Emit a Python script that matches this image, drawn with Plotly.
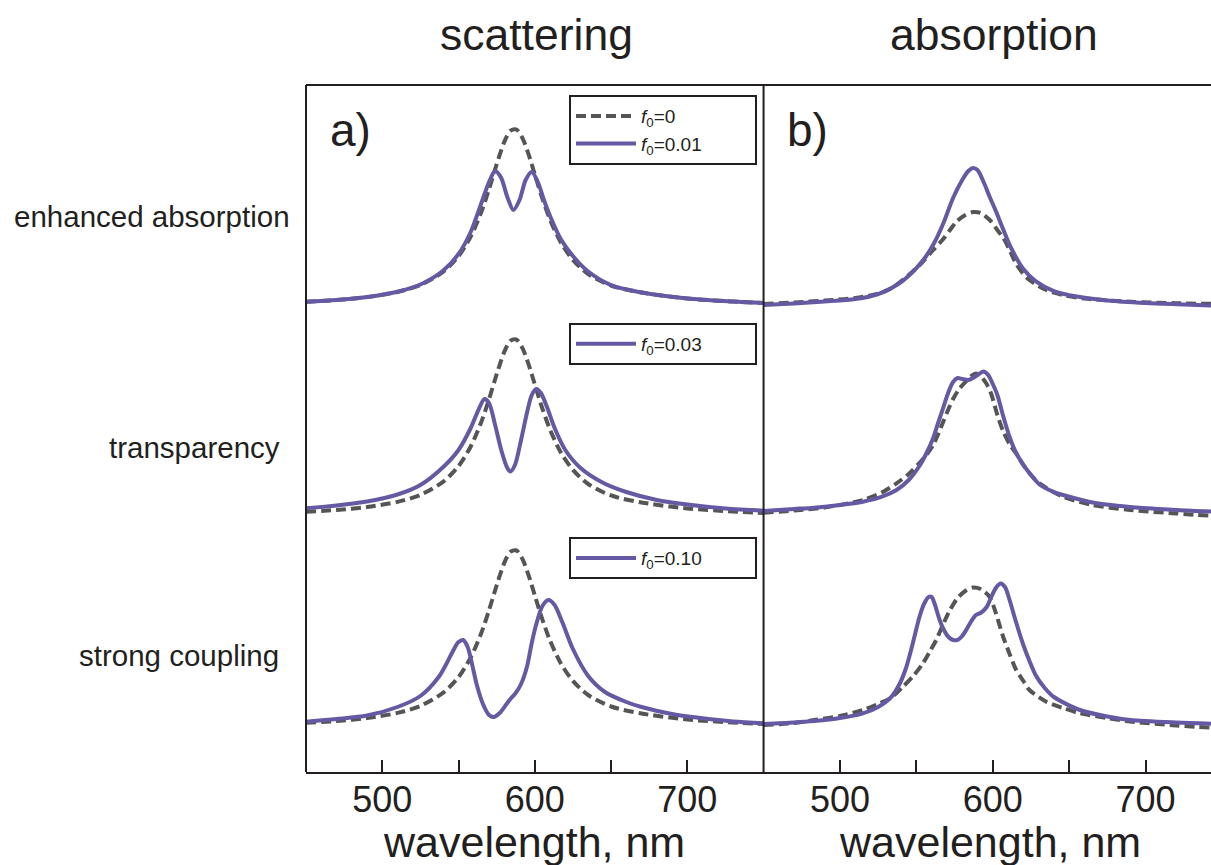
import plotly.graph_objects as go

# ---------------- data (heights in arbitrary units above each row's baseline) -------------
# scattering, f0 = 0 (same spectrum in all rows)
scat_f0_wl = [450, 470, 490, 510, 525, 540, 550, 558, 565, 570, 575, 580, 584, 588, 592, 596,
              600, 605, 610, 617, 625, 635, 650, 670, 700, 730, 750]
scat_f0 = [8.2, 10.0, 12.9, 18.1, 25.1, 38.3, 53.9, 73.5, 98.3, 120.8, 145.7, 168.1, 179.2,
           180.5, 171.7, 155.4, 135.7, 111.4, 90.4, 67.8, 50.1, 36.0, 24.5, 17.5, 11.5, 8.5, 7.0]

# scattering, f0 = 0.01
scat_001_wl = [450, 470, 490, 510, 525, 540, 550, 558, 565, 570, 574, 578, 582, 586, 590, 594,
               598, 602, 606, 610, 617, 625, 635, 650, 670, 700, 730, 750]
scat_001 = [8.2, 10.0, 13.0, 18.3, 25.5, 39.5, 56, 78, 107, 128, 139, 132, 113, 100, 110, 130,
            138, 128, 110, 94, 71, 54, 38.5, 25, 17.5, 11.5, 8.5, 7.0]

# scattering, f0 = 0.03
scat_003_wl = [450, 470, 490, 510, 525, 540, 550, 558, 563, 567, 570, 574, 578, 582, 584, 587,
               591, 595, 598, 601, 604, 608, 613, 620, 630, 645, 660, 680, 700, 725, 750]
scat_003 = [11.7, 14.5, 18.5, 25.5, 35, 53, 70, 92, 110, 121, 117, 95, 70, 52, 48.5, 55,
            80, 108, 125, 131, 127, 113, 92, 70, 52, 37, 28, 20, 15.5, 11.5, 9.3]

# scattering, f0 = 0.10
scat_010_wl = [450, 470, 490, 510, 525, 537, 542, 546, 550, 553, 556, 559, 562, 566, 570, 573,
               577, 581, 584, 587, 591, 595, 598, 601, 605, 609, 613, 618, 625, 635, 646, 660,
               670, 690, 710, 730, 750]
scat_010 = [9.3, 12, 15.5, 24, 35, 54, 67, 79, 89, 91, 84, 66, 46, 27, 16, 14,
            18, 26, 32, 37, 47, 65, 88, 107, 125, 131, 126, 109, 82, 55, 39, 29,
            24, 17, 12.7, 9.5, 7.7]

# absorption, row 1 : f0 = 0 and f0 = 0.01
abs1_f0_wl = [450, 470, 490, 510, 526, 535, 541, 548, 554, 561, 567, 572, 576, 581, 587, 592,
              598, 603, 607, 611, 615, 619, 624, 635, 646, 660, 690, 720, 750]
abs1_f0 = [6, 7.5, 9.5, 12, 16.7, 23, 30, 39, 48, 60, 70, 80, 88, 94, 98, 97,
           90, 80, 72, 60, 47, 38, 30, 20, 15, 11.5, 8.3, 6.8, 6]
abs1_001_wl = [450, 470, 490, 510, 525, 540, 550, 556, 562, 568, 574, 580, 584, 587, 590, 594,
               598, 602, 607, 612, 620, 628, 640, 655, 675, 700, 725, 750]
abs1_001 = [5, 6.5, 8.5, 11, 16, 28, 42, 53, 68, 88, 112, 130, 139, 142, 140, 128,
            113, 99, 80, 62, 41, 29, 19, 13.5, 9.5, 7, 5.5, 4]

# absorption, row 2 : f0 = 0 and f0 = 0.03
abs2_f0_wl = [450, 470, 490, 515, 528, 537, 545, 552, 557, 561, 564, 567.5, 571, 574, 578, 582,
              586, 589, 592, 596, 599, 603, 607, 611, 616, 620, 625, 632, 646, 665, 690, 720, 750]
abs2_f0 = [7.3, 9.5, 12.5, 20, 28, 36.7, 46, 57, 66, 75, 85, 98, 111, 121, 131, 138,
           144, 146.5, 144, 136, 126, 105, 88, 76, 65, 55, 45, 35, 23.3, 15, 10, 6.5, 3.5]
abs2_003_wl = [450, 470, 483, 500, 515, 527, 537, 545, 552, 557, 561, 564, 567.5, 571, 574, 577,
               580, 584, 587, 591, 594, 597, 600, 603, 607, 611, 615, 620, 625, 631, 640, 646,
               668, 690, 712, 730, 750]
abs2_003 = [9, 11, 12.3, 15, 18.3, 23, 30, 40, 54, 68, 82, 96, 112, 128, 138, 142,
            141, 140, 142, 146, 148.5, 145, 136, 125, 103, 83, 68, 55, 45, 35, 28, 25,
            16.7, 13, 10.7, 9.2, 8.3]

# absorption, row 3 : f0 = 0 and f0 = 0.10
abs3_f0_wl = [450, 470, 483, 500, 515, 525, 533, 541, 548, 554, 559, 563, 567, 572, 577, 582,
              587, 592, 598, 602, 606.6, 611, 615, 620, 624, 635, 646, 657, 675, 690, 720, 750]
abs3_f0 = [6, 8, 11, 15, 21, 27, 33, 44, 55, 67, 80, 91, 105, 121, 133, 140,
           143.5, 142, 134, 118, 95, 77, 62, 50, 41, 29.3, 23, 17.7, 13, 9.5, 5.5, 2.7]
abs3_010_wl = [450, 470, 483, 500, 515, 525, 533, 539, 543, 546, 549, 552, 555, 558, 560, 562,
               565, 568, 571, 574, 577, 580, 583, 586, 589, 592, 596, 599, 602, 605, 608, 611,
               615, 620, 624, 628, 634, 640, 657, 675, 690, 720, 750]
abs3_010 = [7, 8.5, 10, 13, 17.7, 24, 33, 47, 62, 78, 96, 114, 127, 134, 134, 127,
            112, 101, 94, 91, 91, 95, 102, 110, 116, 118, 124, 134, 143, 147.5, 144, 131,
            110, 86, 70, 56, 43, 34, 21, 14.5, 11, 8.5, 7]

row_labels = ["enhanced absorption", "transparency", "strong coupling"]
col_titles = ["scattering", "absorption"]
panel_tags = ["a)", "b)"]
major_ticks = [500, 600, 700]
minor_ticks = [550, 650]
x_title = "wavelength, nm"
legend_names = ["<i>f</i><sub>0</sub>=0", "<i>f</i><sub>0</sub>=0.01",
                "<i>f</i><sub>0</sub>=0.03", "<i>f</i><sub>0</sub>=0.10"]

# ---------------- styling ----------------
GRAY = "#555555"
PURPLE = "#6659a3"
INK = "#231f20"
FONT = "Liberation Sans, Arial, sans-serif"
LW = 4
DASH = "10px,5px"

fig = go.Figure()

def add(xwl, yv, xa, ya, dashed, name=None, legend=None):
    fig.add_trace(go.Scatter(
        x=xwl, y=yv, xaxis=xa, yaxis=ya, mode="lines",
        line=dict(color=GRAY if dashed else PURPLE, width=LW,
                  dash=DASH if dashed else "solid", shape="spline", smoothing=0.8),
        name=name if name else "f0", showlegend=name is not None,
        legend=legend if legend else "legend", hoverinfo="x+y"))

NB = "\u00a0"
# row 1
add(scat_f0_wl, scat_f0, "x", "y", True, legend_names[0] + NB * 11, "legend")
add(scat_001_wl, scat_001, "x", "y", False, legend_names[1] + NB * 9, "legend")
add(abs1_f0_wl, abs1_f0, "x2", "y", True)
add(abs1_001_wl, abs1_001, "x2", "y", False)
# row 2
add(scat_f0_wl, scat_f0, "x", "y2", True)
add(scat_003_wl, scat_003, "x", "y2", False, legend_names[2] + NB * 9, "legend2")
add(abs2_f0_wl, abs2_f0, "x2", "y2", True)
add(abs2_003_wl, abs2_003, "x2", "y2", False)
# row 3
add(scat_f0_wl, scat_f0, "x", "y3", True)
add(scat_010_wl, scat_010, "x", "y3", False, legend_names[3] + NB * 9, "legend3")
add(abs3_f0_wl, abs3_f0, "x2", "y3", True)
add(abs3_010_wl, abs3_010, "x2", "y3", False)

XSPLIT = 0.5056
xcommon = dict(
    anchor="y3", showgrid=False, zeroline=False, showline=True, linecolor=INK, linewidth=2,
    ticks="inside", ticklen=12, tickwidth=2, tickcolor=INK,
    tickmode="array", tickvals=major_ticks,
    minor=dict(tickmode="array", tickvals=minor_ticks, ticks="inside", ticklen=12,
               tickwidth=2, tickcolor=INK, showgrid=False),
    tickfont=dict(family=FONT, size=36, color=INK), ticklabelstandoff=-5,
    automargin=False, fixedrange=True,
)
ycommon = dict(showgrid=False, zeroline=False, showline=False, showticklabels=False,
               ticks="", fixedrange=True, anchor="free", position=0)

legend_common = dict(
    x=0.2906, xanchor="left", yanchor="top", bgcolor="white",
    bordercolor=INK, borderwidth=2, font=dict(family=FONT, size=19, color=INK),
    itemwidth=60, tracegroupgap=0, itemclick=False, itemdoubleclick=False,
)

fig.update_layout(
    width=1211, height=865,
    margin=dict(l=306, r=0, t=85, b=93, autoexpand=False),
    paper_bgcolor="white", plot_bgcolor="white",
    xaxis=dict(domain=[0, XSPLIT], range=[450, 750], **xcommon),
    xaxis2=dict(domain=[XSPLIT, 1], range=[450, 742.8], **xcommon),
    yaxis=dict(domain=[0.6608, 1.0], range=[-8, 225], **ycommon),
    yaxis2=dict(domain=[0.3552, 0.6608], range=[-8, 202], **ycommon),
    yaxis3=dict(domain=[0.0, 0.3552], range=[-41, 203], **ycommon),
    legend=dict(y=0.9854, **legend_common),
    legend2=dict(y=0.6536, **legend_common),
    legend3=dict(y=0.3420, **legend_common),
    showlegend=True,
)

# panel frame: top line, left line, separator between panels
frame = dict(type="line", xref="paper", yref="paper", line=dict(color=INK, width=2), layer="above")
fig.add_shape(x0=0, x1=1, y0=1, y1=1, **frame)
fig.add_shape(x0=0, x1=0, y0=0, y1=1, **frame)
fig.add_shape(x0=XSPLIT, x1=XSPLIT, y0=0, y1=1, **frame)

# column titles
for xc, t in zip([0.255, 0.760], col_titles):
    fig.add_annotation(text=t, x=xc, y=1.073, xref="paper", yref="paper", showarrow=False,
                       xanchor="center", yanchor="middle",
                       font=dict(family=FONT, size=44.5, color=INK))
# x-axis titles
for xc in [0.252, 0.756]:
    fig.add_annotation(text=x_title, x=xc, y=-0.1019, xref="paper", yref="paper",
                       showarrow=False, xanchor="center", yanchor="middle",
                       font=dict(family=FONT, size=43, color=INK))
# panel tags
for xc, t in zip([0.0243, 0.529], panel_tags):
    fig.add_annotation(text=t, x=xc, y=0.9345, xref="paper", yref="paper", showarrow=False,
                       xanchor="left", yanchor="middle",
                       font=dict(family=FONT, size=46, color=INK))
# row labels
for xr, yc, t in zip([-0.016, -0.027, -0.028], [0.808, 0.473, 0.170], row_labels):
    fig.add_annotation(text=t, x=xr, y=yc, xref="paper", yref="paper", showarrow=False,
                       xanchor="right", yanchor="middle",
                       font=dict(family=FONT, size=29.5, color=INK))

# remove the default page margin so the 1211x865 figure fills the window exactly
page_js = ("document.body.style.margin='0';"
           "document.documentElement.style.overflow='hidden';"
           "document.body.style.overflow='hidden';")
fig.write_html("out.html", post_script=page_js, config={"displayModeBar": False})
